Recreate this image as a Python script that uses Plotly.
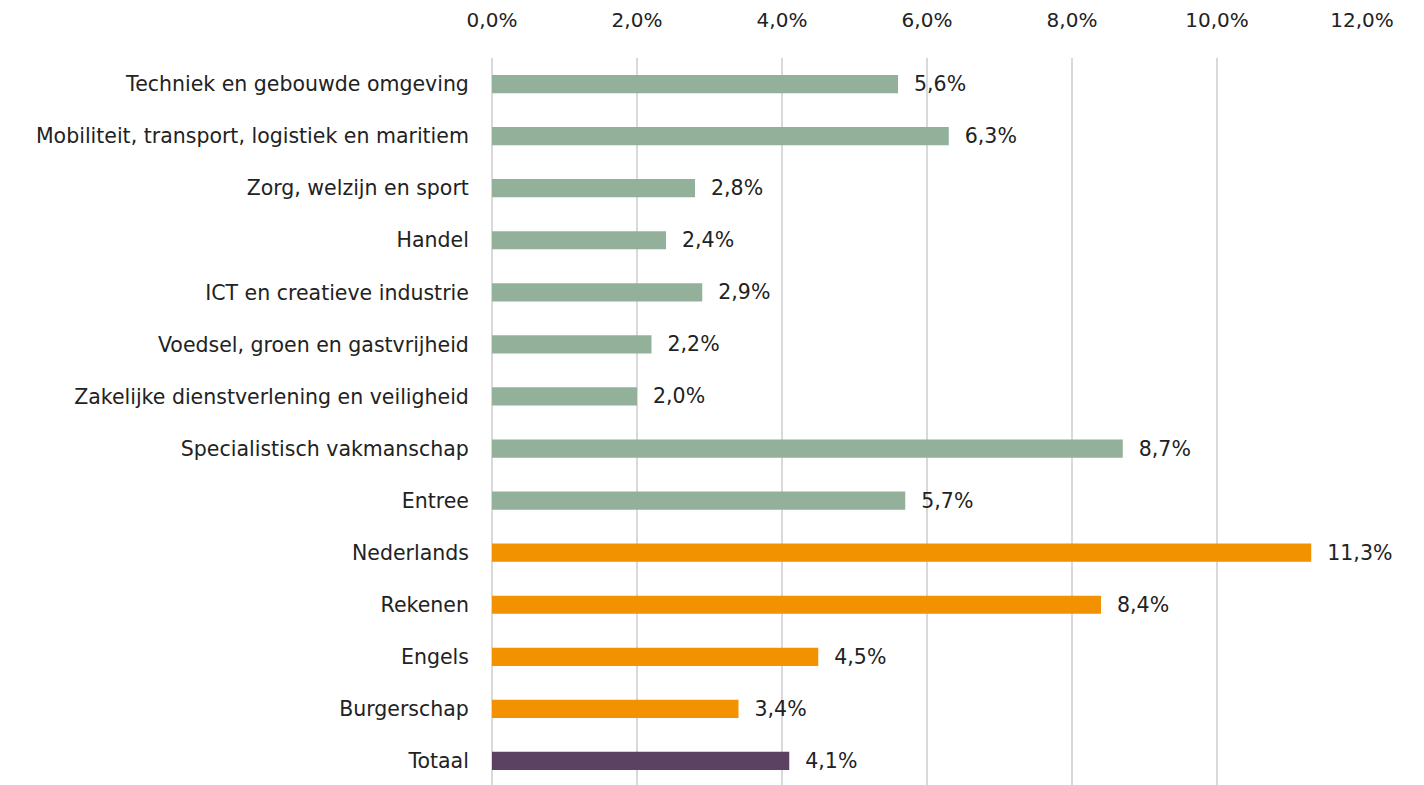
import plotly.graph_objects as go

categories = [
    "Techniek en gebouwde omgeving",
    "Mobiliteit, transport, logistiek en maritiem",
    "Zorg, welzijn en sport",
    "Handel",
    "ICT en creatieve industrie",
    "Voedsel, groen en gastvrijheid",
    "Zakelijke dienstverlening en veiligheid",
    "Specialistisch vakmanschap",
    "Entree",
    "Nederlands",
    "Rekenen",
    "Engels",
    "Burgerschap",
    "Totaal",
]
values = [5.6, 6.3, 2.8, 2.4, 2.9, 2.2, 2.0, 8.7, 5.7, 11.3, 8.4, 4.5, 3.4, 4.1]
groups = ["sector"] * 9 + ["vak"] * 4 + ["totaal"]
group_colors = {"sector": "#93b09b", "vak": "#f39200", "totaal": "#5b4162"}
tick_values = [0, 2, 4, 6, 8, 10, 12]
tick_labels = ["0,0%", "2,0%", "4,0%", "6,0%", "8,0%", "10,0%", "12,0%"]

colors = [group_colors[g] for g in groups]
FONT = "DejaVu Sans"

fig = go.Figure(
    go.Bar(
        x=values,
        y=categories,
        orientation="h",
        marker=dict(color=colors, line=dict(width=0)),
        texttemplate="  %{x:.1f}%",
        textposition="outside",
        constraintext="none",
        textfont=dict(family=FONT, size=20.5, color="#222222"),
        cliponaxis=False,
    )
)

fig.update_layout(
    width=1424,
    height=785,
    margin=dict(l=484, r=70, t=50, b=6, autoexpand=False),
    paper_bgcolor="white",
    plot_bgcolor="white",
    separators=",.",
    bargap=0.65,
    showlegend=False,
    font=dict(family=FONT, size=20.5, color="#222222"),
)
fig.update_xaxes(
    side="top",
    range=[0, 12],
    tickvals=tick_values,
    ticktext=tick_labels,
    tickfont=dict(size=20),
    showgrid=True,
    gridcolor="#d9d9d9",
    gridwidth=1.5,
    zeroline=True,
    zerolinecolor="#d9d9d9",
    zerolinewidth=1.5,
    ticks="outside",
    ticklen=22,
    tickcolor="white",
    showline=False,
    automargin=False,
)
fig.update_yaxes(
    autorange="reversed",
    ticks="outside",
    ticklen=18,
    tickcolor="white",
    showline=False,
    automargin=False,
)

fig.write_html("out.html")
